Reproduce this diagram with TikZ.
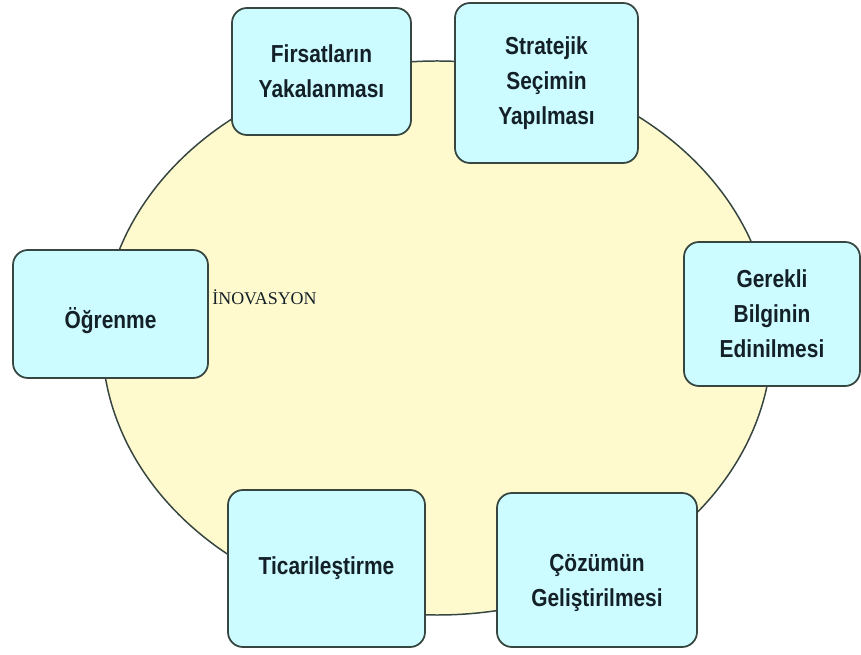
\documentclass[tikz,border=0pt]{standalone}
\usepackage{fontspec}
\setmainfont{Liberation Serif}
\newfontfamily\boxfont[FakeStretch=0.85]{Liberation Sans}
\usetikzlibrary{shapes.geometric}

\definecolor{boxcyan}{RGB}{204,252,255}
\definecolor{ovalyellow}{RGB}{255,250,206}
\definecolor{edgegray}{RGB}{55,70,65}
\definecolor{textdark}{RGB}{20,32,40}

\begin{document}
\begin{tikzpicture}[x=0.2mm,y=-0.2mm,
  stagebox/.style={draw=edgegray,line width=1pt,rounded corners=8.5pt,fill=boxcyan,align=center,text=textdark,inner sep=2pt,font=\boxfont\bfseries\fontsize{14}{20}\selectfont}]
\useasboundingbox (0,0) rectangle (861,655);
\node[ellipse,draw=edgegray,fill=ovalyellow,line width=0.85pt,minimum width=134mm,minimum height=110.8mm,inner sep=0pt] (oval) at (437,338) {};
\node[anchor=west,inner sep=0pt,text=textdark,font=\fontsize{10.2}{12}\selectfont] (ino) at (212,297) {İNOVASYON};
\node[stagebox,minimum width=35.8mm,minimum height=25.4mm] (fir) at (321.5,71.5) {Firsatların\\Yakalanması};
\node[stagebox,minimum width=36.6mm,minimum height=32mm] (str) at (546.5,83) {Stratejik\\Seçimin\\Yapılması};
\node[stagebox,minimum width=35.2mm,minimum height=28.8mm] (ger) at (772,314) {Gerekli\\Bilginin\\Edinilmesi};
\node[stagebox,minimum width=40mm,minimum height=30.8mm] (coz) at (597,570) {\rule{0pt}{25pt}Çözümün\\Geliştirilmesi};
\node[stagebox,minimum width=39.4mm,minimum height=31.4mm] (tic) at (326.5,568.5) {Ticarileştirme};
\node[stagebox,minimum width=39mm,minimum height=25.6mm] (ogr) at (110.5,314) {\rule{0pt}{20pt}Öğrenme};
\end{tikzpicture}
\end{document}
